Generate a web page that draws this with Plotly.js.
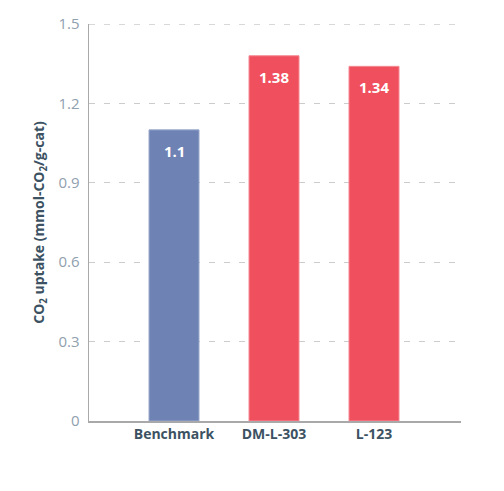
<!DOCTYPE html>
<html>
<head>
<meta charset="utf-8">
<script src="https://cdn.plot.ly/plotly-3.0.1.min.js"></script>
<style>html,body{margin:0;padding:0;background:#fff;}#chart{width:504px;height:491px;}</style>
</head>
<body>
<div id="chart"></div>
<script>
const categories = ["Benchmark", "DM-L-303", "L-123"];
const uptake = [1.1, 1.38, 1.34];
const barColors = ["#6f82b4", "#f04f5e", "#f04f5e"];
const lineColors = ["#9aa8cc", "#f58a94", "#f58a94"];
const yTickVals = [0, 0.3, 0.6, 0.9, 1.2, 1.5];
const yTickText = ["0", "0.3", "0.6", "0.9", "1.2", "1.5"];

const trace = {
  type: "bar",
  x: categories,
  y: uptake,
  width: 0.5,
  marker: {color: barColors, line: {color: lineColors, width: 1}},
  hoverinfo: "none"
};

const annotations = categories.map((c, i) => ({
  x: c, y: uptake[i], xref: "x", yref: "y",
  text: String(uptake[i]), showarrow: false,
  yanchor: "middle", yshift: -21,
  font: {family: "Open Sans, sans-serif", size: 15, color: "#ffffff", weight: 700}
}));

const yTop = yTickVals[yTickVals.length - 1];
const topGrid = {
  type: "line", xref: "paper", x0: 0, x1: 1, yref: "y", y0: yTop, y1: yTop,
  line: {color: "#cccccc", width: 1.3, dash: "6px,9px"}, layer: "below"
};

const layout = {
  width: 504, height: 491,
  margin: {l: 89, r: 43, t: 24, b: 70},
  paper_bgcolor: "#ffffff", plot_bgcolor: "#ffffff",
  showlegend: false,
  font: {family: "Open Sans, sans-serif"},
  xaxis: {
    range: [-0.85, 2.87],
    showline: true, linecolor: "#a9a9a9", linewidth: 1.5,
    showgrid: false, zeroline: false, ticks: "",
    tickfont: {family: "Open Sans, sans-serif", size: 14, color: "#3c5262", weight: 700}
  },
  yaxis: {
    range: [0, 1.5],
    tickvals: yTickVals, ticktext: yTickText,
    showline: true, linecolor: "#a9a9a9", linewidth: 1.5,
    showgrid: true, gridcolor: "#cccccc", gridwidth: 1.3, griddash: "6px,9px",
    zeroline: false, ticks: "", ticklabelstandoff: 5,
    tickfont: {family: "Open Sans, sans-serif", size: 15, color: "#8fa0ae"},
    title: {
      text: "CO<sub>2</sub> uptake (mmol-CO<sub>2</sub>/g-cat)",
      font: {family: "Open Sans, sans-serif", size: 14, color: "#3c5262", weight: 700},
      standoff: 10
    }
  },
  shapes: [topGrid],
  annotations: annotations
};

Plotly.newPlot("chart", [trace], layout, {displayModeBar: false, staticPlot: true});
</script>
</body>
</html>
